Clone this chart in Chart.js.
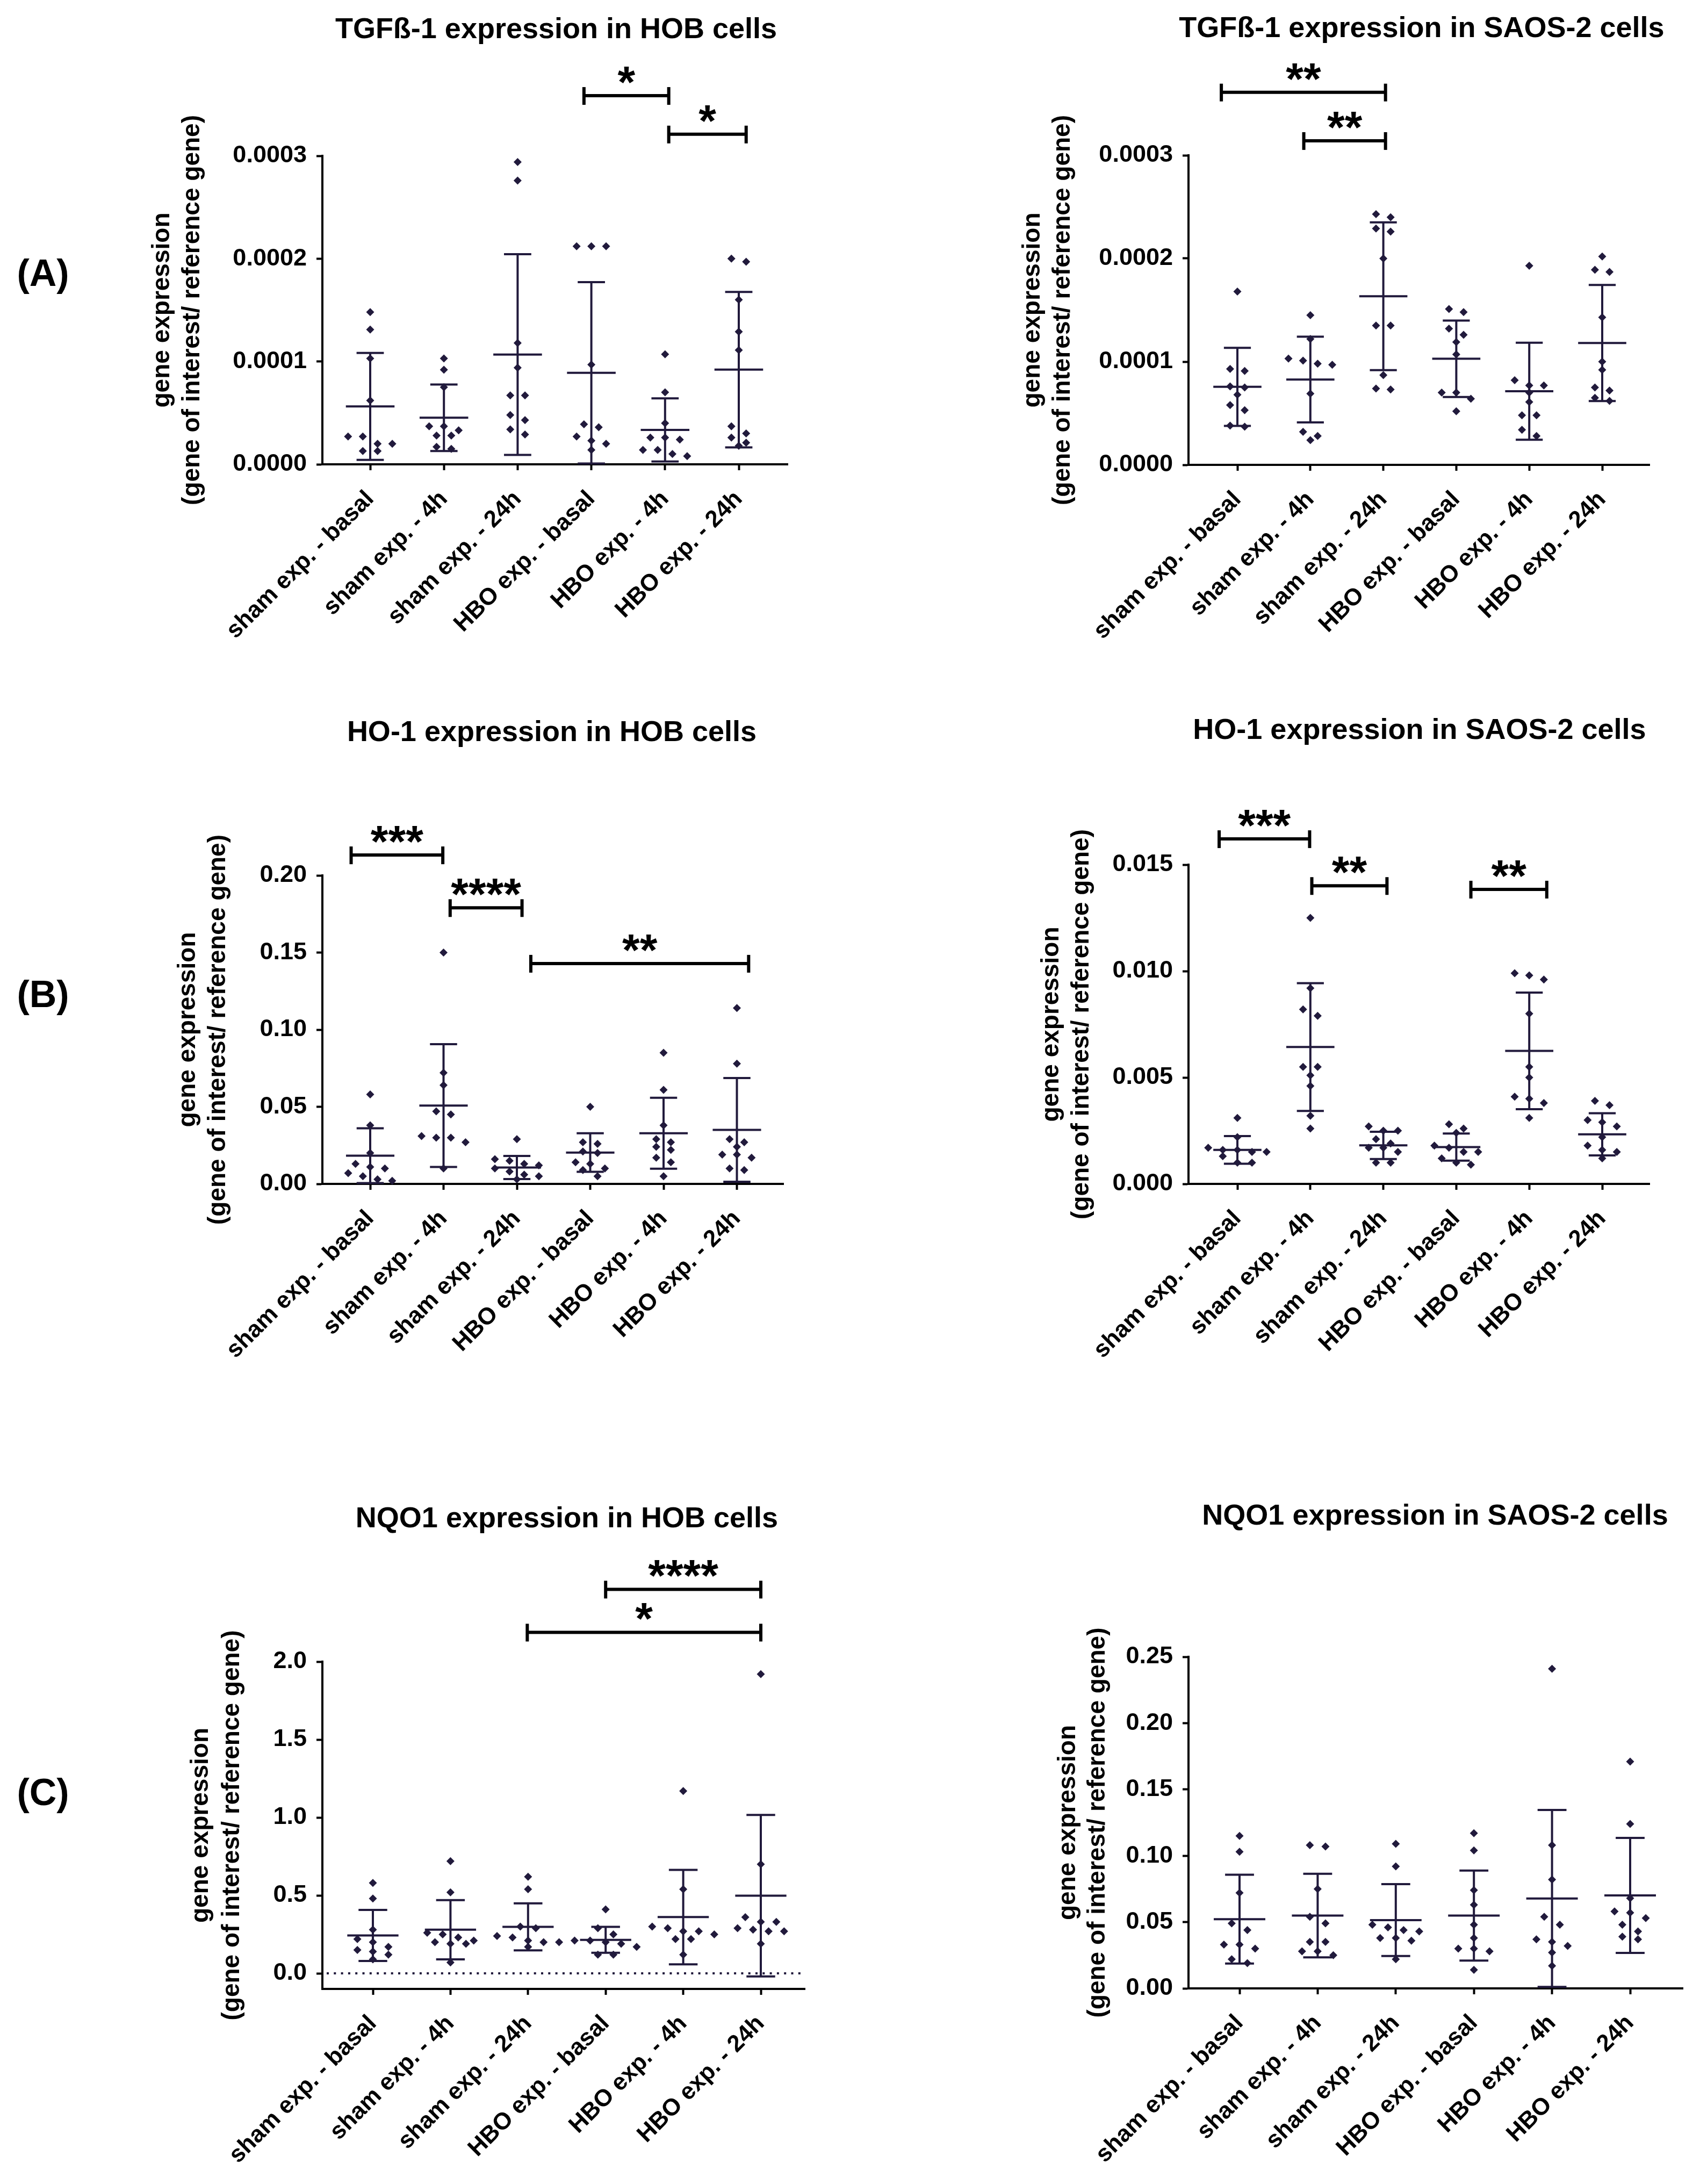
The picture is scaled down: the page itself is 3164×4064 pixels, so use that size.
<!DOCTYPE html>
<html>
<head>
<meta charset="utf-8">
<title>Gene expression in HOB and SAOS-2 cells</title>
<script src="https://cdn.jsdelivr.net/npm/chart.js@4.4.1/dist/chart.umd.min.js"></script>
<style>
    html, body { margin: 0; padding: 0; background: #fff; }
    #page { position: relative; width: 3164px; height: 4064px; overflow: hidden; background: #fff; }
    #page canvas { position: absolute; }
    .panel-label {
        position: absolute;
        font: bold 70px "Liberation Sans", Arial, sans-serif;
        color: #000;
        transform: translate(-50%, -50%);
    }
</style>
</head>
<body>
<div id="page">
    <div class="panel-label" style="left:80px; top:508px;">(A)</div>
    <div class="panel-label" style="left:80px; top:1850px;">(B)</div>
    <div class="panel-label" style="left:80px; top:3335px;">(C)</div>
</div>

<script>
// Data

const categories = [
    "sham exp. - basal",
    "sham exp. - 4h",
    "sham exp. - 24h",
    "HBO exp. - basal",
    "HBO exp. - 4h",
    "HBO exp. - 24h",
];

// TGFß-1 in HOB cells
const tgfHobTitle = "TGFß-1 expression in HOB cells";
const tgfHobValues = [
    [1.48e-4, 1.31e-4, 1.03e-4, 0.62e-4, 0.27e-4, 0.27e-4, 0.20e-4, 0.20e-4, 0.13e-4, 0.13e-4],
    [1.03e-4, 0.92e-4, 0.75e-4, 0.37e-4, 0.37e-4, 0.33e-4, 0.28e-4, 0.28e-4, 0.17e-4, 0.15e-4],
    [2.94e-4, 2.76e-4, 1.18e-4, 0.94e-4, 0.67e-4, 0.67e-4, 0.48e-4, 0.43e-4, 0.34e-4, 0.29e-4],
    [2.12e-4, 2.12e-4, 2.12e-4, 0.97e-4, 0.39e-4, 0.36e-4, 0.27e-4, 0.23e-4, 0.20e-4, 0.14e-4],
    [1.07e-4, 0.70e-4, 0.40e-4, 0.26e-4, 0.26e-4, 0.24e-4, 0.14e-4, 0.14e-4, 0.10e-4, 0.08e-4],
    [2.00e-4, 1.97e-4, 1.60e-4, 1.29e-4, 1.11e-4, 0.37e-4, 0.30e-4, 0.26e-4, 0.21e-4, 0.18e-4],
];
const tgfHobMeans = [0.563e-4, 0.453e-4, 1.067e-4, 0.890e-4, 0.335e-4, 0.921e-4];
const tgfHobSds = [0.520e-4, 0.323e-4, 0.976e-4, 0.882e-4, 0.307e-4, 0.756e-4];
const tgfHobTicks = [0, 0.0001, 0.0002, 0.0003];
const tgfHobStars = ["*", "*"];
const tgfHobStarLevels = [3.585e-4, 3.21e-4];

// TGFß-1 in SAOS-2 cells
const tgfSaosTitle = "TGFß-1 expression in SAOS-2 cells";
const tgfSaosValues = [
    [1.68e-4, 0.93e-4, 0.91e-4, 0.76e-4, 0.75e-4, 0.68e-4, 0.58e-4, 0.53e-4, 0.38e-4, 0.37e-4],
    [1.45e-4, 1.22e-4, 1.03e-4, 1.01e-4, 0.98e-4, 0.97e-4, 0.69e-4, 0.32e-4, 0.28e-4, 0.24e-4],
    [2.43e-4, 2.40e-4, 2.29e-4, 2.26e-4, 2.00e-4, 1.35e-4, 1.35e-4, 0.87e-4, 0.74e-4, 0.73e-4],
    [1.51e-4, 1.48e-4, 1.32e-4, 1.26e-4, 1.19e-4, 1.07e-4, 0.70e-4, 0.70e-4, 0.64e-4, 0.52e-4],
    [1.93e-4, 0.82e-4, 0.77e-4, 0.77e-4, 0.70e-4, 0.61e-4, 0.48e-4, 0.48e-4, 0.34e-4, 0.28e-4],
    [2.02e-4, 1.89e-4, 1.87e-4, 1.43e-4, 1.00e-4, 0.92e-4, 0.75e-4, 0.72e-4, 0.65e-4, 0.62e-4],
];
const tgfSaosMeans = [0.756e-4, 0.827e-4, 1.634e-4, 1.028e-4, 0.713e-4, 1.181e-4];
const tgfSaosSds = [0.378e-4, 0.415e-4, 0.716e-4, 0.370e-4, 0.470e-4, 0.563e-4];
const tgfSaosTicks = [0, 0.0001, 0.0002, 0.0003];
const tgfSaosStars = ["**", "**"];
const tgfSaosStarLevels = [3.611e-4, 3.141e-4];

// HO-1 in HOB cells
const hoHobTitle = "HO-1 expression in HOB cells";
const hoHobValues = [
    [0.058, 0.038, 0.020, 0.013, 0.011, 0.010, 0.007, 0.005, 0.003, 0.002],
    [0.150, 0.072, 0.064, 0.047, 0.045, 0.031, 0.030, 0.030, 0.027, 0.010],
    [0.029, 0.016, 0.015, 0.013, 0.012, 0.010, 0.008, 0.006, 0.005, 0.003],
    [0.050, 0.027, 0.026, 0.021, 0.020, 0.014, 0.013, 0.010, 0.009, 0.005],
    [0.085, 0.061, 0.038, 0.029, 0.027, 0.024, 0.022, 0.017, 0.014, 0.005],
    [0.114, 0.078, 0.029, 0.027, 0.024, 0.019, 0.019, 0.017, 0.010, 0.009],
];
const hoHobMeans = [0.0183, 0.0508, 0.0106, 0.0203, 0.0328, 0.0350];
const hoHobSds = [0.0178, 0.0398, 0.0075, 0.0125, 0.0230, 0.0336];
const hoHobTicks = [0, 0.05, 0.10, 0.15, 0.20];
const hoHobStars = ["***", "****", "**"];
const hoHobStarLevels = [0.2132, 0.179, 0.1429];

// HO-1 in SAOS-2 cells
const hoSaosTitle = "HO-1 expression in SAOS-2 cells";
const hoSaosValues = [
    [0.0031, 0.0022, 0.0017, 0.0016, 0.0016, 0.0015, 0.0015, 0.0013, 0.0010, 0.0010],
    [0.0125, 0.0092, 0.0082, 0.0079, 0.0055, 0.0055, 0.0051, 0.0046, 0.0032, 0.0026],
    [0.0027, 0.0025, 0.0025, 0.0021, 0.0019, 0.0017, 0.0017, 0.0015, 0.0010, 0.0010],
    [0.0028, 0.0026, 0.0024, 0.0018, 0.0017, 0.0015, 0.0015, 0.0012, 0.0010, 0.0009],
    [0.0099, 0.0098, 0.0096, 0.0080, 0.0055, 0.0050, 0.0041, 0.0040, 0.0038, 0.0031],
    [0.0039, 0.0037, 0.0030, 0.0029, 0.0027, 0.0022, 0.0018, 0.0016, 0.0015, 0.0012],
];
const hoSaosMeans = [0.00160, 0.00643, 0.00181, 0.00173, 0.00625, 0.00233];
const hoSaosSds = [0.00065, 0.00300, 0.00064, 0.00064, 0.00274, 0.00099];
const hoSaosTicks = [0, 0.005, 0.010, 0.015];
const hoSaosStars = ["***", "**", "**"];
const hoSaosStarLevels = [0.01621, 0.01401, 0.01384];

// NQO1 in HOB cells
const nqoHobTitle = "NQO1 expression in HOB cells";
const nqoHobValues = [
    [0.58, 0.48, 0.28, 0.22, 0.20, 0.17, 0.15, 0.14, 0.12, 0.09],
    [0.72, 0.52, 0.26, 0.25, 0.23, 0.21, 0.20, 0.19, 0.19, 0.07],
    [0.62, 0.54, 0.30, 0.29, 0.24, 0.23, 0.21, 0.20, 0.20, 0.17],
    [0.41, 0.29, 0.25, 0.21, 0.21, 0.20, 0.19, 0.17, 0.12, 0.12],
    [1.17, 0.54, 0.30, 0.29, 0.27, 0.27, 0.25, 0.22, 0.22, 0.12],
    [1.92, 0.70, 0.36, 0.33, 0.33, 0.29, 0.28, 0.27, 0.27, 0.19],
];
const nqoHobMeans = [0.243, 0.280, 0.298, 0.215, 0.361, 0.498];
const nqoHobSds = [0.164, 0.190, 0.151, 0.083, 0.303, 0.518];
const nqoHobTicks = [0, 0.5, 1.0, 1.5, 2.0];
const nqoHobStars = ["****", "*"];
const nqoHobStarLevels = [2.464, 2.188];

// NQO1 in SAOS-2 cells
const nqoSaosTitle = "NQO1 expression in SAOS-2 cells";
const nqoSaosValues = [
    [0.115, 0.103, 0.072, 0.049, 0.044, 0.033, 0.033, 0.030, 0.022, 0.019],
    [0.108, 0.107, 0.075, 0.054, 0.049, 0.035, 0.035, 0.028, 0.028, 0.025],
    [0.109, 0.092, 0.048, 0.046, 0.044, 0.043, 0.038, 0.038, 0.036, 0.022],
    [0.117, 0.104, 0.074, 0.063, 0.048, 0.038, 0.030, 0.030, 0.028, 0.014],
    [0.241, 0.108, 0.082, 0.054, 0.048, 0.037, 0.035, 0.032, 0.027, 0.017],
    [0.171, 0.124, 0.068, 0.058, 0.057, 0.053, 0.048, 0.043, 0.039, 0.037],
];
const nqoSaosMeans = [0.0522, 0.0549, 0.0515, 0.0549, 0.0678, 0.0701];
const nqoSaosSds = [0.0335, 0.0315, 0.0271, 0.0339, 0.0667, 0.0434];
const nqoSaosTicks = [0, 0.05, 0.10, 0.15, 0.20, 0.25];
const nqoSaosStars = [];
const nqoSaosStarLevels = [];

const yTitleLines = ["gene expression", "(gene of interest/ reference gene)"];

// Look
const FONT = '"Liberation Sans", Arial, Helvetica, sans-serif';
const MARK = "#211a3c";
const INK = "#000000";

Chart.defaults.font.family = FONT;
Chart.defaults.color = INK;

// Panel setup (page pixels)
const panels = [
    {
        title: tgfHobTitle, values: tgfHobValues, means: tgfHobMeans, sds: tgfHobSds,
        ticks: tgfHobTicks, decimals: 4, yMin: 0, yMax: 0.0003,
        stars: tgfHobStars, starLevels: tgfHobStarLevels,
        starSpans: [[2.9, 4.05], [4.05, 5.1]],
        box: { left: 150, top: 0, w: 1450, h: 1280 },
        plot: { left: 600, right: 1466, top: 290, bottom: 864 },
        cat0: 689, catStep: 137.2,
        titleAt: [1035, 56], yTitleX: [302, 358],
    },
    {
        title: tgfSaosTitle, values: tgfSaosValues, means: tgfSaosMeans, sds: tgfSaosSds,
        ticks: tgfSaosTicks, decimals: 4, yMin: 0, yMax: 0.0003,
        stars: tgfSaosStars, starLevels: tgfSaosStarLevels,
        starSpans: [[-0.22, 2.03], [0.91, 2.03]],
        box: { left: 1750, top: 0, w: 1414, h: 1280 },
        plot: { left: 2212, right: 3070, top: 289, bottom: 865 },
        cat0: 2303, catStep: 135.8,
        titleAt: [2646, 54], yTitleX: [1922, 1978],
    },
    {
        title: hoHobTitle, values: hoHobValues, means: hoHobMeans, sds: hoHobSds,
        ticks: hoHobTicks, decimals: 2, yMin: 0, yMax: 0.20,
        stars: hoHobStars, starLevels: hoHobStarLevels,
        starSpans: [[-0.26, 0.99], [1.09, 2.07], [2.19, 5.16]],
        box: { left: 150, top: 1290, w: 1450, h: 1380 },
        plot: { left: 600, right: 1458, top: 1629, bottom: 2203 },
        cat0: 689, catStep: 136.5,
        titleAt: [1027, 1364], yTitleX: [350, 406],
    },
    {
        title: hoSaosTitle, values: hoSaosValues, means: hoSaosMeans, sds: hoSaosSds,
        ticks: hoSaosTicks, decimals: 3, yMin: 0, yMax: 0.015,
        stars: hoSaosStars, starLevels: hoSaosStarLevels,
        starSpans: [[-0.25, 0.99], [1.02, 2.05], [3.2, 4.24]],
        box: { left: 1750, top: 1290, w: 1414, h: 1380 },
        plot: { left: 2212, right: 3070, top: 1609, bottom: 2203 },
        cat0: 2303, catStep: 135.8,
        titleAt: [2642, 1360], yTitleX: [1957, 2013],
    },
    {
        title: nqoHobTitle, values: nqoHobValues, means: nqoHobMeans, sds: nqoHobSds,
        ticks: nqoHobTicks, decimals: 1, yMin: -0.1, yMax: 2.0, zeroLine: true,
        stars: nqoHobStars, starLevels: nqoHobStarLevels,
        starSpans: [[3.0, 5.0], [1.99, 5.0]],
        box: { left: 150, top: 2700, w: 1450, h: 1364 },
        plot: { left: 600, right: 1498, top: 3092, bottom: 3701 },
        cat0: 694, catStep: 144.4,
        titleAt: [1055, 2827], yTitleX: [374, 432],
    },
    {
        title: nqoSaosTitle, values: nqoSaosValues, means: nqoSaosMeans, sds: nqoSaosSds,
        ticks: nqoSaosTicks, decimals: 2, yMin: 0, yMax: 0.25,
        stars: nqoSaosStars, starLevels: nqoSaosStarLevels,
        starSpans: [],
        box: { left: 1750, top: 2700, w: 1414, h: 1364 },
        plot: { left: 2212, right: 3132, top: 3083, bottom: 3700 },
        cat0: 2307, catStep: 145.4,
        titleAt: [2671, 2822], yTitleX: [1988, 2043],
    },
];

// Spread points that sit at about the same height side by side, like a dot plot
function spreadGroup(values, closeness, step) {
    const sorted = values.slice().sort((a, b) => b - a);
    const out = [];
    let i = 0;
    while (i < sorted.length) {
        const row = [sorted[i]];
        let j = i + 1;
        while (j < sorted.length && row.length < 5 && sorted[i] - sorted[j] < closeness) {
            row.push(sorted[j]);
            j++;
        }
        row.forEach((v, k) => out.push({ value: v, offset: (k - (row.length - 1) / 2) * step }));
        i = j;
    }
    return out;
}

function strokeLine(ctx, x1, y1, x2, y2) {
    ctx.beginPath();
    ctx.moveTo(x1, y1);
    ctx.lineTo(x2, y2);
    ctx.stroke();
}

// Draws title, y title, mean/SD bars, significance brackets
function panelPlugin(p) {
    const ox = p.box.left, oy = p.box.top;
    return {
        id: "panelDecor",
        beforeDatasetsDraw(chart) {
            if (!p.zeroLine) return;
            const ctx = chart.ctx, area = chart.chartArea;
            const y0 = chart.scales.y.getPixelForValue(0);
            ctx.save();
            ctx.strokeStyle = MARK;
            ctx.lineWidth = 4;
            ctx.setLineDash([4, 9.3]);
            strokeLine(ctx, area.left + 8, y0, area.right, y0);
            ctx.restore();
        },
        afterDatasetsDraw(chart) {
            const ctx = chart.ctx;
            const xs = chart.scales.x, ys = chart.scales.y;
            ctx.save();
            ctx.strokeStyle = MARK;
            ctx.lineWidth = 4;
            p.means.forEach((m, g) => {
                const sd = p.sds[g];
                const cx = xs.getPixelForValue(g);
                const capW = xs.getPixelForValue(g + 0.185) - cx;
                const meanW = xs.getPixelForValue(g + 0.33) - cx;
                const yTop = ys.getPixelForValue(m + sd);
                const yBot = ys.getPixelForValue(m - sd);
                const yMid = ys.getPixelForValue(m);
                strokeLine(ctx, cx, yTop, cx, yBot);
                strokeLine(ctx, cx - capW, yTop, cx + capW, yTop);
                strokeLine(ctx, cx - capW, yBot, cx + capW, yBot);
                strokeLine(ctx, cx - meanW, yMid, cx + meanW, yMid);
            });
            ctx.restore();

            // brackets
            ctx.save();
            ctx.strokeStyle = INK;
            ctx.fillStyle = INK;
            ctx.lineWidth = 6;
            ctx.font = "bold 84px " + FONT;
            ctx.textAlign = "center";
            ctx.textBaseline = "alphabetic";
            p.stars.forEach((label, k) => {
                const span = p.starSpans[k];
                const x1 = xs.getPixelForValue(span[0]);
                const x2 = xs.getPixelForValue(span[1]);
                const y = ys.getPixelForValue(p.starLevels[k]);
                strokeLine(ctx, x1, y, x2, y);
                strokeLine(ctx, x1, y - 16, x1, y + 17);
                strokeLine(ctx, x2, y - 16, x2, y + 17);
                const m = ctx.measureText(label);
                const mid = (m.actualBoundingBoxAscent - m.actualBoundingBoxDescent) / 2;
                ctx.fillText(label, (x1 + x2) / 2, y - 38 + mid);
            });
            ctx.restore();
        },
        afterDraw(chart) {
            const ctx = chart.ctx;
            ctx.save();
            ctx.fillStyle = INK;
            ctx.textAlign = "center";
            ctx.textBaseline = "middle";
            ctx.font = "bold 54px " + FONT;
            ctx.fillText(p.title, p.titleAt[0] - ox, p.titleAt[1] - oy);

            const cy = (p.plot.top + p.plot.bottom) / 2 - oy;
            ctx.font = "bold 46px " + FONT;
            yTitleLines.forEach((line, k) => {
                ctx.save();
                ctx.translate(p.yTitleX[k] - ox, cy);
                ctx.rotate(-Math.PI / 2);
                ctx.fillText(line, 0, 0);
                ctx.restore();
            });
            ctx.restore();
        },
    };
}

function buildPanel(p) {
    const page = document.getElementById("page");
    const canvas = document.createElement("canvas");
    canvas.width = p.box.w;
    canvas.height = p.box.h;
    canvas.style.left = p.box.left + "px";
    canvas.style.top = p.box.top + "px";
    canvas.style.width = p.box.w + "px";
    canvas.style.height = p.box.h + "px";
    page.appendChild(canvas);

    const xMin = (p.plot.left - p.cat0) / p.catStep;
    const xMax = (p.plot.right - p.cat0) / p.catStep;
    const closeness = (p.yMax - p.yMin) * 0.025;

    const points = [];
    p.values.forEach((vals, g) => {
        spreadGroup(vals, closeness, 0.2).forEach((pt) => {
            points.push({ x: g + pt.offset, y: pt.value });
        });
    });

    const tickFont = { size: 45, weight: "bold", family: FONT };

    new Chart(canvas, {
        type: "scatter",
        data: {
            datasets: [
                {
                    data: points,
                    pointStyle: "rectRot",
                    pointRadius: 7.5,
                    pointHoverRadius: 7.5,
                    backgroundColor: MARK,
                    borderWidth: 0,
                    clip: false,
                },
            ],
        },
        options: {
            responsive: false,
            animation: false,
            devicePixelRatio: 1,
            events: [],
            layout: {
                padding: {
                    left: 0,
                    top: p.plot.top - p.box.top,
                    right: p.box.left + p.box.w - p.plot.right,
                    bottom: 0,
                },
            },
            plugins: {
                legend: { display: false },
                tooltip: { enabled: false },
            },
            scales: {
                x: {
                    type: "linear",
                    bounds: "data",
                    min: xMin,
                    max: xMax,
                    afterBuildTicks: (scale) => {
                        scale.ticks = categories.map((c, i) => ({ value: i }));
                    },
                    afterFit: (scale) => {
                        scale.height = p.box.top + p.box.h - p.plot.bottom;
                    },
                    ticks: {
                        autoSkip: false,
                        minRotation: 45,
                        maxRotation: 45,
                        padding: 28,
                        color: INK,
                        font: { size: 44, weight: "bold", family: FONT },
                        callback: (v) => categories[v] ?? "",
                    },
                    grid: {
                        display: true,
                        drawOnChartArea: false,
                        drawTicks: true,
                        tickLength: 11,
                        tickWidth: 4,
                        tickColor: INK,
                    },
                    border: { display: true, width: 4, color: INK },
                },
                y: {
                    type: "linear",
                    bounds: "data",
                    min: p.yMin,
                    max: p.yMax,
                    afterBuildTicks: (scale) => {
                        scale.ticks = p.ticks.map((v) => ({ value: v }));
                    },
                    afterFit: (scale) => {
                        scale.width = p.plot.left - p.box.left;
                    },
                    ticks: {
                        padding: 18,
                        color: INK,
                        font: tickFont,
                        callback: (v) => Number(v).toFixed(p.decimals),
                    },
                    grid: {
                        display: true,
                        drawOnChartArea: false,
                        drawTicks: true,
                        tickLength: 11,
                        tickWidth: 4,
                        tickColor: INK,
                    },
                    border: { display: true, width: 4, color: INK },
                },
            },
        },
        plugins: [panelPlugin(p)],
    });
}

panels.forEach(buildPanel);
</script>
</body>
</html>
